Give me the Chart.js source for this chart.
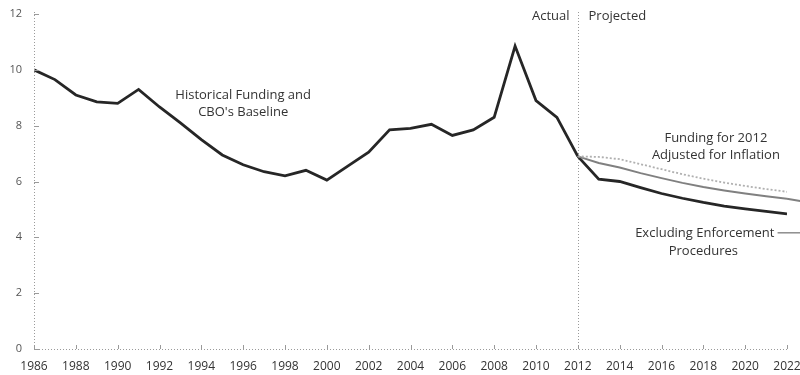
<!DOCTYPE html>
<html>
<head>
<meta charset="utf-8">
<script src="https://cdn.jsdelivr.net/npm/chart.js@4.4.1/dist/chart.umd.min.js"></script>
<style>
  html, body { margin: 0; padding: 0; background: #fff; overflow: hidden; }
  #wrap { width: 800px; height: 375px; position: relative; overflow: hidden; }
</style>
</head>
<body>
<div id="wrap"><canvas id="chart" width="812" height="375"></canvas></div>
<script>
// funding chart - historical series plus three projections from 2012

const histYears = [1986, 1987, 1988, 1989, 1990, 1991, 1992, 1993, 1994, 1995,
  1996, 1997, 1998, 1999, 2000, 2001, 2002, 2003, 2004, 2005, 2006, 2007,
  2008, 2009, 2010, 2011, 2012];
const histValues = [10.0, 9.65, 9.1, 8.85, 8.8, 9.3, 8.67, 8.1, 7.5, 6.95,
  6.6, 6.35, 6.2, 6.4, 6.05, 6.55, 7.05, 7.85, 7.9, 8.05, 7.65, 7.85,
  8.3, 10.85, 8.9, 8.3, 6.9];

const projYears = [2012, 2013, 2014, 2015, 2016, 2017, 2018, 2019, 2020, 2021, 2022];
const baseline  = [6.9, 6.08, 6.0, 5.78, 5.57, 5.4, 5.25, 5.12, 5.02, 4.93, 4.84];
const excluding = [6.9, 6.66, 6.5, 6.3, 6.12, 5.95, 5.8, 5.68, 5.57, 5.47, 5.38];
const inflation = [6.9, 6.88, 6.8, 6.62, 6.44, 6.26, 6.1, 5.96, 5.84, 5.73, 5.63];

const yTicks = [0, 2, 4, 6, 8, 10, 12];
const FONT = '"Open Sans", "Noto Sans", sans-serif';

const pts = (xs, ys) => xs.map((x, i) => ({ x, y: ys[i] }));

// axis lines, small inside ticks, the 2012 divider and text notes
const decor = {
  id: 'decor',
  afterDatasetsDraw(chart) {
    const { ctx, chartArea: a, scales: { x, y } } = chart;
    ctx.save();
    ctx.strokeStyle = '#9a9a9a';
    ctx.lineWidth = 1;
    ctx.setLineDash([1, 2]);
    ctx.beginPath();
    ctx.moveTo(a.left + 0.5, y.getPixelForValue(12) - 2);
    ctx.lineTo(a.left + 0.5, a.bottom + 0.5);
    ctx.lineTo(a.right, a.bottom + 0.5);
    ctx.stroke();
    ctx.setLineDash([]);
    ctx.beginPath();
    yTicks.forEach(v => {
      const py = Math.round(y.getPixelForValue(v)) + 0.5;
      ctx.moveTo(a.left, py);
      ctx.lineTo(a.left + 5, py);
    });
    for (let yr = 1986; yr <= 2022; yr += 2) {
      const px = Math.round(x.getPixelForValue(yr)) + 0.5;
      ctx.moveTo(px, a.bottom);
      ctx.lineTo(px, a.bottom - 4);
    }
    ctx.stroke();

    // actual / projected divider
    const xd = Math.round(x.getPixelForValue(2012)) + 0.5;
    ctx.setLineDash([1, 2]);
    ctx.beginPath();
    ctx.moveTo(xd, y.getPixelForValue(12) - 2);
    ctx.lineTo(xd, a.bottom);
    ctx.stroke();
    ctx.setLineDash([]);

    // leader from the label to the middle projection
    const yLead = y.getPixelForValue(4.16);
    const xEnd = x.getPixelForValue(2022);
    ctx.strokeStyle = '#808080';
    ctx.lineWidth = 2;
    ctx.beginPath();
    ctx.moveTo(xEnd, y.getPixelForValue(excluding[excluding.length - 1]));
    ctx.lineTo(xEnd + 16, y.getPixelForValue(5.28));
    ctx.stroke();
    ctx.strokeStyle = '#555';
    ctx.lineWidth = 1;
    ctx.beginPath();
    ctx.moveTo(x.getPixelForValue(2021.55), yLead);
    ctx.lineTo(xEnd + 16, yLead);
    ctx.stroke();

    ctx.fillStyle = '#333';
    ctx.font = '13px ' + FONT;
    ctx.textBaseline = 'middle';
    ctx.textAlign = 'right';
    ctx.fillText('Actual', xd - 9, y.getPixelForValue(11.9));
    ctx.textAlign = 'left';
    ctx.fillText('Projected', xd + 10, y.getPixelForValue(11.9));

    ctx.textAlign = 'center';
    const note = (lines, xv, yv) => lines.forEach((t, i) =>
      ctx.fillText(t, x.getPixelForValue(xv), y.getPixelForValue(yv) + i * 17));
    note(['Historical Funding and', "CBO's Baseline"], 1996.0, 9.1);
    note(['Funding for 2012', 'Adjusted for Inflation'], 2018.6, 7.53);
    ctx.textAlign = 'right';
    ctx.fillText('Excluding Enforcement', x.getPixelForValue(2021.4), yLead);
    ctx.textAlign = 'center';
    ctx.fillText('Procedures', x.getPixelForValue(2018.0), yLead + 18);
    ctx.restore();
  }
};

new Chart(document.getElementById('chart'), {
  type: 'line',
  data: {
    datasets: [
      {
        label: 'Funding for 2012 Adjusted for Inflation',
        data: pts(projYears, inflation),
        borderColor: '#b0b0b0',
        borderWidth: 1.8,
        borderDash: [2, 2],
        pointRadius: 0,
        tension: 0,
      },
      {
        label: 'Excluding Enforcement Procedures',
        data: pts(projYears, excluding),
        borderColor: '#808080',
        borderWidth: 2,
        pointRadius: 0,
        tension: 0,
      },
      {
        label: "CBO's Baseline",
        data: pts(projYears, baseline),
        borderColor: '#262626',
        borderWidth: 2.8,
        pointRadius: 0,
        tension: 0,
      },
      {
        label: 'Historical Funding',
        data: pts(histYears, histValues),
        borderColor: '#262626',
        borderWidth: 2.8,
        pointRadius: 0,
        tension: 0,
      },
    ],
  },
  options: {
    animation: false,
    responsive: false,
    devicePixelRatio: 1,
    layout: { padding: { top: 14, bottom: 3, left: 0, right: 25 } },
    scales: {
      x: {
        type: 'linear',
        min: 1986,
        max: 2022,
        grid: { display: false, drawTicks: false },
        border: { display: false },
        afterFit: s => { s.height = 23; },
        ticks: {
          stepSize: 2,
          padding: 10,
          maxRotation: 0,
          autoSkip: false,
          color: '#333',
          font: { family: FONT, size: 12 },
          callback: v => String(v),
        },
      },
      y: {
        min: 0,
        max: 12,
        grid: { display: false, drawTicks: false },
        border: { display: false },
        afterFit: s => { s.width = 34; s.paddingTop = 0; s.paddingBottom = 0; },
        ticks: {
          stepSize: 2,
          padding: 12,
          color: '#555',
          font: { family: FONT, size: 11 },
        },
      },
    },
    plugins: {
      legend: { display: false },
      tooltip: { enabled: false },
    },
  },
  plugins: [decor],
});
</script>
</body>
</html>
